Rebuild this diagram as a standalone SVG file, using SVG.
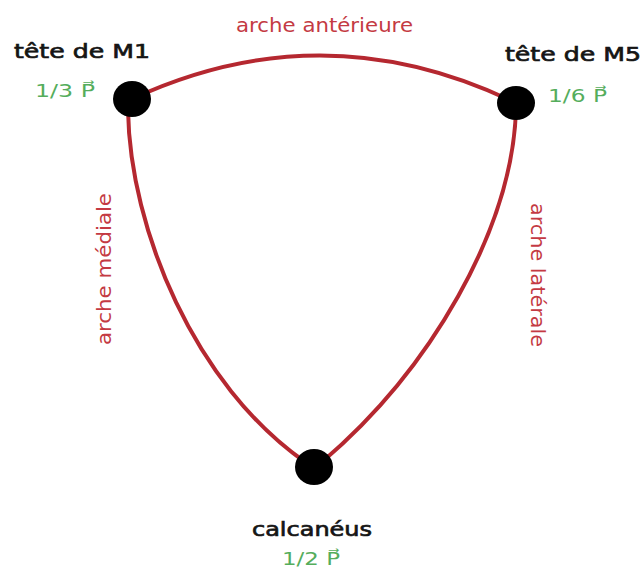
<svg xmlns="http://www.w3.org/2000/svg" width="644" height="574" viewBox="0 0 644 574">
<style>
.arch{fill:none;stroke:#b52830;stroke-width:4;stroke-linecap:round}
.node{fill:#000}
.name{font-family:"DejaVu Sans","Liberation Sans",sans-serif;font-size:20px;fill:#151515;stroke:#151515;stroke-width:0.7}
.frac{font-family:"DejaVu Sans","Liberation Sans",sans-serif;font-size:18px;fill:#55ad5c}
.lab{font-family:"DejaVu Sans","Liberation Sans",sans-serif;font-size:19px;fill:#c43a43}
</style>
<rect width="644" height="574" fill="#fff"/>
<g id="connectors">
<path class="arch" d="M132,99 Q324,10 516,103"/>
<path class="arch" d="M128,110 C130,230 195,385 305,462"/>
<path class="arch" d="M516,110 C512,230 430,370 322,462"/>
<text class="lab" x="236" y="32" textLength="177" lengthAdjust="spacingAndGlyphs">arche antérieure</text>
<text class="lab" transform="translate(111,345) rotate(-90)" textLength="152" lengthAdjust="spacingAndGlyphs">arche médiale</text>
<text class="lab" transform="translate(531,203) rotate(90)" textLength="144" lengthAdjust="spacingAndGlyphs">arche latérale</text>
</g>
<g id="m1">
<ellipse class="node" cx="132" cy="99" rx="19" ry="18"/>
<text class="name" x="14" y="58" textLength="136" lengthAdjust="spacingAndGlyphs">tête de M1</text>
<text class="frac" x="35" y="97" textLength="60" lengthAdjust="spacingAndGlyphs">1/3 P⃗</text>
</g>
<g id="m5">
<ellipse class="node" cx="516" cy="103" rx="19" ry="17"/>
<text class="name" x="505" y="61" textLength="136" lengthAdjust="spacingAndGlyphs">tête de M5</text>
<text class="frac" x="548" y="102" textLength="59" lengthAdjust="spacingAndGlyphs">1/6 P⃗</text>
</g>
<g id="calcaneus">
<ellipse class="node" cx="314" cy="467" rx="19" ry="18"/>
<text class="name" x="252" y="536" textLength="120" lengthAdjust="spacingAndGlyphs">calcanéus</text>
<text class="frac" x="282" y="565" textLength="58" lengthAdjust="spacingAndGlyphs">1/2 P⃗</text>
</g>
</svg>
